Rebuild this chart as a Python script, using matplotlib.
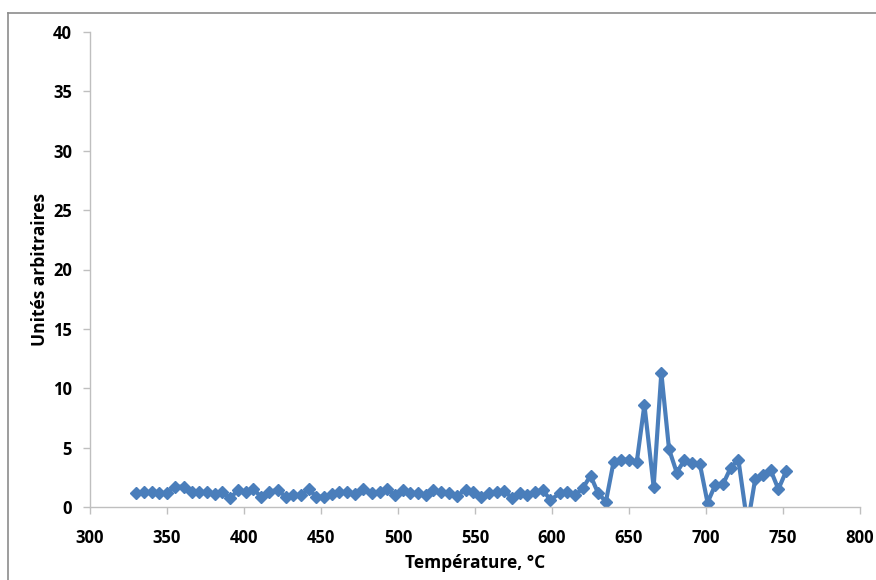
import matplotlib
matplotlib.use("Agg")
import matplotlib.pyplot as plt
from matplotlib.lines import Line2D

# température (°C) et signal (unités arbitraires)
temperature = [330, 335, 340, 345, 350, 355, 361, 366, 371, 376,
               381, 386, 391, 396, 401, 406, 411, 416, 422, 427,
               432, 437, 442, 447, 452, 457, 462, 467, 472, 477,
               483, 488, 493, 498, 503, 508, 513, 518, 523, 528,
               533, 538, 544, 549, 554, 559, 564, 569, 574, 579,
               584, 589, 594, 599, 605, 610, 615, 620, 625, 630,
               635, 640, 645, 650, 655, 660, 666, 671, 676, 681,
               686, 691, 696, 701, 706, 711, 716, 721, 727, 732,
               737, 742, 747, 752]
signal = [1.15, 1.24, 1.24, 1.15, 1.15, 1.71, 1.71, 1.29, 1.24, 1.24,
          1.07, 1.24, 0.73, 1.43, 1.24, 1.52, 0.87, 1.29, 1.43, 0.87,
          1.01, 1.01, 1.49, 0.87, 0.87, 1.07, 1.24, 1.24, 1.07, 1.49,
          1.15, 1.24, 1.49, 1.01, 1.43, 1.15, 1.15, 1.01, 1.43, 1.24,
          1.15, 0.95, 1.43, 1.24, 0.87, 1.15, 1.24, 1.38, 0.73, 1.15,
          1.01, 1.29, 1.43, 0.59, 1.15, 1.29, 1.01, 1.57, 2.65, 1.15,
          0.45, 3.8, 3.96, 4.0, 3.75, 8.6, 1.7, 11.3, 4.86, 2.9,
          3.96, 3.73, 3.62, 0.37, 1.85, 1.9, 3.3, 4.0, -1.5, 2.4,
          2.7, 3.1, 1.5, 3.0]

x_ticks = [300, 350, 400, 450, 500, 550, 600, 650, 700, 750, 800]
y_ticks = [0, 5, 10, 15, 20, 25, 30, 35, 40]

plt.rcParams['font.family'] = ['Open Sans', 'DejaVu Sans']

fig = plt.figure(figsize=(8.76, 5.8), dpi=100)
ax = fig.add_axes([90 / 876, 1 - 507 / 580, 770 / 876, 475 / 580])

ax.plot(temperature, signal, color='#4A7EBB', linewidth=3,
        marker='D', markersize=6.5, markeredgecolor='#4A7EBB')

ax.set_xlim(300, 800)
ax.set_ylim(0, 40)
ax.set_xticks(x_ticks)
ax.set_yticks(y_ticks)
ax.tick_params(axis='both', colors='#BFBFBF', length=5, width=1, direction='out')
for lbl in ax.get_xticklabels() + ax.get_yticklabels():
    lbl.set_color('black')
    lbl.set_fontweight('bold')
    lbl.set_fontsize(12)
ax.tick_params(axis='x', pad=11)
ax.tick_params(axis='y', pad=8)

for side in ['top', 'right']:
    ax.spines[side].set_visible(False)
for side in ['left', 'bottom']:
    ax.spines[side].set_color('#BFBFBF')
    ax.spines[side].set_linewidth(1)

ax.set_xlabel('Température, °C', fontsize=12.5, fontweight='bold', labelpad=5)
ax.set_ylabel('Unités arbitraires', fontsize=12.5, fontweight='bold', labelpad=3)

# cadre extérieur (gauche et haut)
fig.add_artist(Line2D([8 / 876, 8 / 876], [0, 1 - 13 / 580], color='#8C8C8C', linewidth=1.2))
fig.add_artist(Line2D([8 / 876, 1], [1 - 13 / 580, 1 - 13 / 580], color='#8C8C8C', linewidth=1.2))

fig.savefig('out.png', dpi=100)
